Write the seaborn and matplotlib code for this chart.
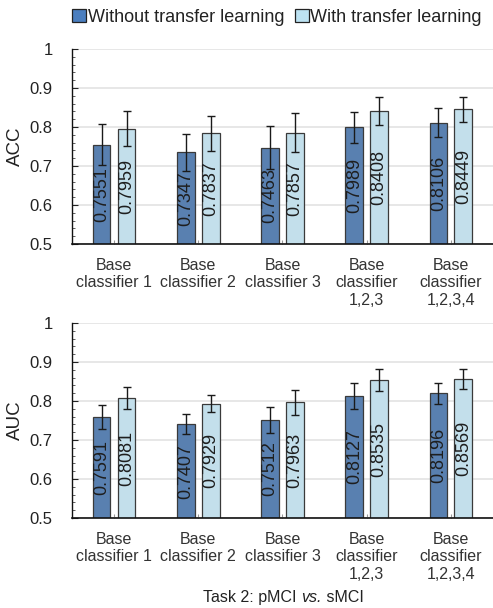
import matplotlib
matplotlib.use("Agg")
import matplotlib.pyplot as plt
from matplotlib.patches import Patch
from matplotlib.ticker import MultipleLocator
import seaborn as sns
import pandas as pd
import numpy as np

categories = ["Base\nclassifier 1", "Base\nclassifier 2", "Base\nclassifier 3",
              "Base\nclassifier\n1,2,3", "Base\nclassifier\n1,2,3,4"]
series_names = ["Without transfer learning", "With transfer learning"]

acc_without = [0.7551, 0.7347, 0.7463, 0.7989, 0.8106]
acc_with = [0.7959, 0.7837, 0.7857, 0.8408, 0.8449]
acc_err_without = [0.052, 0.047, 0.055, 0.040, 0.037]
acc_err_with = [0.045, 0.045, 0.050, 0.035, 0.033]

auc_without = [0.7591, 0.7407, 0.7512, 0.8127, 0.8196]
auc_with = [0.8081, 0.7929, 0.7963, 0.8535, 0.8569]
auc_err_without = [0.031, 0.026, 0.034, 0.033, 0.027]
auc_err_with = [0.028, 0.022, 0.033, 0.028, 0.025]

title_parts = ["Task 2: pMCI ", "vs.", " sMCI"]

colors = ["#4A7EBF", "#BCE2F2"]
FAM = ["Liberation Sans", "DejaVu Sans"]

sns.set_theme(style="white")
plt.rcParams["font.family"] = FAM

fig = plt.figure(figsize=(4.93, 6.08), dpi=100)
ax1 = fig.add_axes([0.146, 0.5987, 0.854, 0.3207])
ax2 = fig.add_axes([0.146, 0.148, 0.854, 0.3207])


def draw(ax, vals_without, vals_with, err_without, err_with, ylabel):
    df = pd.DataFrame({
        "category": categories * 2,
        "series": [series_names[0]] * 5 + [series_names[1]] * 5,
        "value": list(vals_without) + list(vals_with),
    })
    sns.barplot(data=df, x="category", y="value", hue="series",
                order=categories, hue_order=series_names,
                palette=colors, errorbar=None, width=0.59, gap=0.29,
                edgecolor="#3a3a3a", linewidth=0.9, legend=False, ax=ax)
    errs = [err_without, err_with]
    vals = [vals_without, vals_with]
    bar_conts = list(ax.containers)[:2]
    for ci, cont in enumerate(bar_conts):
        for bi, patch in enumerate(cont.patches):
            cx = patch.get_x() + patch.get_width() / 2
            v = vals[ci][bi]
            ax.errorbar(cx, v, yerr=errs[ci][bi], fmt="none", ecolor="#1a1a1a",
                        elinewidth=1.0, capsize=3, capthick=1.0, zorder=5)
            ax.text(cx, (0.5 + v) / 2, f"{v:.4f}", rotation=90, ha="center",
                    va="center", fontsize=13, color="#1e1e1e", zorder=6,
                    family=FAM)
    ax.set_ylim(0.5, 1.0)
    ax.set_xlim(-0.5, 4.5)
    ax.set_yticks([0.5, 0.6, 0.7, 0.8, 0.9, 1.0])
    ax.set_yticklabels(["0.5", "0.6", "0.7", "0.8", "0.9", "1"])
    ax.yaxis.set_minor_locator(MultipleLocator(0.02))
    ax.tick_params(axis="y", which="major", direction="in", length=4, width=0.8,
                   color="#222222", labelsize=12, labelcolor="#222222", left=True, pad=14)
    ax.tick_params(axis="y", which="minor", direction="in", length=2.5, width=0.6,
                   color="#444444", left=True)
    ax.tick_params(axis="x", which="major", direction="in", length=3, width=0.8,
                   color="#999999", labelsize=11.5, labelcolor="#333333", bottom=True, pad=10)
    ax.set_xlabel("")
    ax.set_ylabel(ylabel, fontsize=13.5, color="#222222", labelpad=4, family=FAM)
    ax.grid(axis="y", which="major", color="#e3e3e3", linewidth=1.2)
    ax.set_axisbelow(True)
    for s in ["top", "right"]:
        ax.spines[s].set_visible(False)
    ax.spines["left"].set_color("#111111")
    ax.spines["bottom"].set_color("#111111")
    ax.spines["left"].set_linewidth(1.0)
    ax.spines["bottom"].set_linewidth(1.2)


draw(ax1, acc_without, acc_with, acc_err_without, acc_err_with, "ACC")
draw(ax2, auc_without, auc_with, auc_err_without, auc_err_with, "AUC")

handles = [Patch(facecolor=colors[i], edgecolor="#222222", linewidth=0.9,
                 label=series_names[i]) for i in range(2)]
fig.legend(handles=handles, loc="center", bbox_to_anchor=(0.562, 0.972), ncol=2,
           frameon=False, fontsize=13, handlelength=0.75, handleheight=0.75,
           handletextpad=0.1, columnspacing=0.6, labelcolor="#222222")

# title made of three pieces (middle one italic), centred as a whole
renderer = fig.canvas.get_renderer()
styles = ["normal", "italic", "normal"]
texts = []
for part, st in zip(title_parts, styles):
    t = fig.text(0, 0.018, part, ha="left", va="center", fontsize=11.5,
                 color="#222222", style=st, family=FAM)
    texts.append(t)
widths = [t.get_window_extent(renderer).width for t in texts]
total = sum(widths)
cx_px = 0.575 * fig.bbox.width
x = cx_px - total / 2
for t, w in zip(texts, widths):
    t.set_x(x / fig.bbox.width)
    x += w

fig.savefig("out.png", dpi=100)
